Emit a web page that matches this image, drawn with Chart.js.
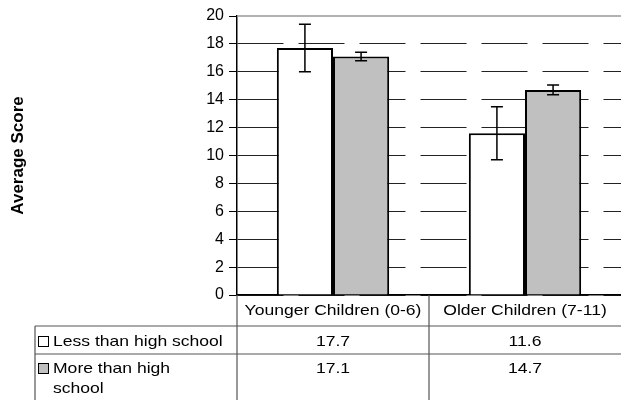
<!DOCTYPE html>
<html>
<head>
<meta charset="utf-8">
<script src="https://cdn.jsdelivr.net/npm/chart.js@4/dist/chart.umd.min.js"></script>
<style>
  body { margin: 0; background: #fff; }
  #wrap { width: 621px; height: 400px; }
</style>
</head>
<body>
<div id="wrap"><canvas id="chart" width="621" height="400"></canvas></div>
<script>
// Chart data
const categories = ['Younger Children (0-6)', 'Older Children (7-11)'];
const seriesNames = ['Less than high school', 'More than high school'];
const legendLines = [['Less than high school'], ['More than high', 'school']];
const lessThanHS = [17.7, 11.6];
const moreThanHS = [17.1, 14.7];
const lessErr = [1.7, 1.9];
const moreErr = [0.3, 0.35];
const yMin = 0, yMax = 20, yStep = 2;

const FONT = "'Liberation Sans', Arial, sans-serif";
const fills = ['#FFFFFF', '#C0C0C0'];
const errors = [lessErr, moreErr];

// Draw text slightly stretched horizontally (the original is wider than Arial)
function stretchText(ctx, text, x, y, align, sx) {
    ctx.save();
    ctx.translate(x, y);
    ctx.scale(sx, 1);
    ctx.textAlign = align;
    ctx.fillText(text, 0, 0);
    ctx.restore();
}

// Error bars
const errorBars = {
    id: 'errorBars',
    afterDatasetsDraw(chart) {
        const { ctx } = chart;
        const yScale = chart.scales.y;
        ctx.save();
        ctx.strokeStyle = '#000';
        ctx.lineWidth = 1.5;
        chart.data.datasets.forEach((ds, i) => {
            chart.getDatasetMeta(i).data.forEach((bar, j) => {
                const v = ds.data[j];
                const e = errors[i][j];
                const yTop = yScale.getPixelForValue(v + e);
                const yBot = yScale.getPixelForValue(v - e);
                ctx.beginPath();
                ctx.moveTo(bar.x, yTop); ctx.lineTo(bar.x, yBot);
                ctx.moveTo(bar.x - 6, yTop); ctx.lineTo(bar.x + 6, yTop);
                ctx.moveTo(bar.x - 6, yBot); ctx.lineTo(bar.x + 6, yBot);
                ctx.stroke();
            });
        });
        ctx.restore();
    }
};

// Top border + data table under the plot
const dataTable = {
    id: 'dataTable',
    afterDraw(chart) {
        const { ctx, chartArea } = chart;
        const xScale = chart.scales.x;
        const left = chartArea.left, right = chart.width, bottom = chartArea.bottom;
        const row1 = bottom + 31, row2 = bottom + 59;
        const tableLeft = 35;
        const colSplit = (xScale.getPixelForValue(0) + xScale.getPixelForValue(1)) / 2;

        ctx.save();
        // top frame line
        ctx.strokeStyle = '#999';
        ctx.lineWidth = 1.5;
        ctx.beginPath();
        ctx.moveTo(left, chartArea.top); ctx.lineTo(right, chartArea.top);
        ctx.stroke();

        // table grid
        ctx.strokeStyle = '#555';
        ctx.lineWidth = 1.2;
        ctx.beginPath();
        ctx.moveTo(left, bottom); ctx.lineTo(left, chart.height);
        ctx.moveTo(colSplit, bottom); ctx.lineTo(colSplit, chart.height);
        ctx.moveTo(tableLeft, row1); ctx.lineTo(right, row1);
        ctx.moveTo(tableLeft, row2); ctx.lineTo(right, row2);
        ctx.moveTo(tableLeft, row1); ctx.lineTo(tableLeft, chart.height);
        ctx.stroke();

        ctx.fillStyle = '#000';
        ctx.font = '15px ' + FONT;
        ctx.textBaseline = 'middle';
        const sx = 1.17;

        // category header
        categories.forEach((c, j) => {
            stretchText(ctx, c, xScale.getPixelForValue(j), bottom + 16, 'center', sx);
        });

        // series rows
        const rowMid = [row1 + 16, row2 + 15];
        chart.data.datasets.forEach((ds, i) => {
            const cy = rowMid[i];
            ctx.fillStyle = fills[i];
            ctx.fillRect(38.5, cy - 5.5, 10, 10);
            ctx.strokeStyle = '#000';
            ctx.lineWidth = 1;
            ctx.strokeRect(38.5, cy - 5.5, 10, 10);
            ctx.fillStyle = '#000';
            legendLines[i].forEach((line, k) => {
                stretchText(ctx, line, 53, cy + k * 20, 'left', sx);
            });
            ds.data.forEach((v, j) => {
                stretchText(ctx, v.toFixed(1), xScale.getPixelForValue(j), cy, 'center', sx);
            });
        });
        ctx.restore();
    }
};

new Chart(document.getElementById('chart'), {
    type: 'bar',
    data: {
        labels: categories,
        datasets: [
            {
                label: seriesNames[0],
                data: lessThanHS,
                backgroundColor: fills[0],
                borderColor: '#000',
                borderWidth: 2,
                categoryPercentage: 0.585,
                barPercentage: 1
            },
            {
                label: seriesNames[1],
                data: moreThanHS,
                backgroundColor: fills[1],
                borderColor: '#000',
                borderWidth: 2,
                categoryPercentage: 0.585,
                barPercentage: 1
            }
        ]
    },
    options: {
        responsive: false,
        devicePixelRatio: 1,
        animation: false,
        layout: { padding: { top: 16, right: 0, left: 0, bottom: 0 } },
        plugins: {
            legend: { display: false },
            tooltip: { enabled: false }
        },
        scales: {
            x: {
                grid: { display: false },
                ticks: { display: false },
                border: { display: true, color: '#000', width: 1.5 },
                afterFit: (scale) => { scale.height = 105; }
            },
            y: {
                min: yMin,
                max: yMax,
                ticks: {
                    stepSize: yStep,
                    color: '#000',
                    padding: 5,
                    font: { family: FONT, size: 16 }
                },
                grid: {
                    color: (c) => (c.tick && c.tick.value === yMax) ? 'rgba(0,0,0,0)' : '#222',
                    lineWidth: 1,
                    tickLength: 8,
                    tickColor: '#000'
                },
                border: { display: true, color: '#000', width: 1.5, dash: [46, 15] },
                title: {
                    display: true,
                    text: 'Average Score',
                    color: '#000',
                    font: { family: FONT, size: 17, weight: 'bold' },
                    padding: { top: 8, bottom: 0 }
                },
                afterFit: (scale) => { scale.width = 237; }
            }
        }
    },
    plugins: [errorBars, dataTable]
});
</script>
</body>
</html>
